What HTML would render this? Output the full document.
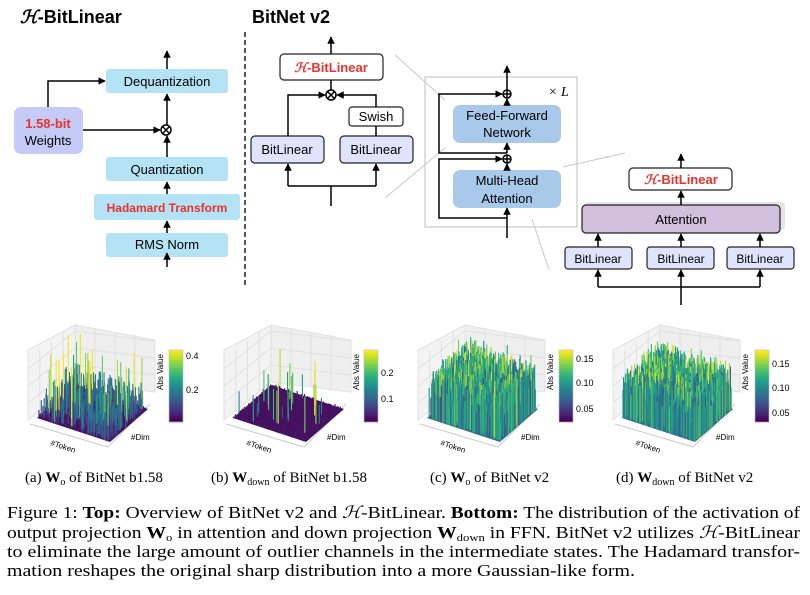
<!DOCTYPE html>
<html><head><meta charset="utf-8"><style>
html,body{margin:0;padding:0;background:#fff}
svg{display:block}
.s{font-family:"Liberation Sans","DejaVu Sans",sans-serif}
.r{font-family:"Liberation Serif",serif}
</style></head><body>
<svg id="svg" width="810" height="595" viewBox="0 0 810 595" xmlns="http://www.w3.org/2000/svg">
<defs>
<marker id="ar" viewBox="0 0 10 10" refX="9" refY="5" markerWidth="5" markerHeight="5" orient="auto"><path d="M0,0L10,5L0,10z" fill="#000"/></marker>
</defs>
<g class="s">
<text x="20" y="23" font-size="18" font-weight="bold"><tspan font-family="Liberation Serif" font-style="italic">ℋ</tspan>-BitLinear</text>
<rect x="106" y="69" width="122" height="24" rx="3" fill="#b4e3f5"/>
<text x="167" y="86" font-size="13" text-anchor="middle">Dequantization</text>
<rect x="14" y="107" width="69" height="47" rx="7" fill="#c4cbf7"/>
<text x="48" y="128" font-size="13" text-anchor="middle" font-weight="bold" fill="#e8322e">1.58-bit</text>
<text x="48" y="145" font-size="13" text-anchor="middle">Weights</text>
<rect x="106" y="157" width="122" height="24" rx="3" fill="#b4e3f5"/>
<text x="167" y="174" font-size="13" text-anchor="middle">Quantization</text>
<rect x="94" y="194" width="146" height="26" rx="3" fill="#b4e3f5"/>
<text x="167" y="212" font-size="12" text-anchor="middle" font-weight="bold" fill="#e8322e">Hadamard Transform</text>
<rect x="106" y="233" width="122" height="24" rx="3" fill="#b4e3f5"/>
<text x="167" y="249" font-size="13" text-anchor="middle">RMS Norm</text>
<g stroke="#000" stroke-width="1.5" fill="none">
<line x1="167" y1="267" x2="167" y2="253" marker-end="url(#ar)"/>
<line x1="167" y1="233" x2="167" y2="221" marker-end="url(#ar)"/>
<line x1="167" y1="194" x2="167" y2="182" marker-end="url(#ar)"/>
<line x1="167" y1="157" x2="167" y2="136" marker-end="url(#ar)"/>
<line x1="167" y1="125" x2="167" y2="94" marker-end="url(#ar)"/>
<line x1="167" y1="69" x2="167" y2="51" marker-end="url(#ar)"/>
<polyline points="48,107 48,81 105,81" marker-end="url(#ar)"/>
<line x1="83" y1="130" x2="160" y2="130" marker-end="url(#ar)"/>
<circle cx="166" cy="130" r="5" fill="#fff"/>
<line x1="162.5" y1="126.5" x2="169.5" y2="133.5"/><line x1="169.5" y1="126.5" x2="162.5" y2="133.5"/>
</g>
<line x1="245" y1="32" x2="245" y2="288" stroke="#000" stroke-width="1.3" stroke-dasharray="5,3"/>

<text x="252" y="23" font-size="18" font-weight="bold">BitNet v2</text>
<rect x="280" y="54" width="103" height="26" rx="4" fill="#fff" stroke="#222" stroke-width="1.2"/>
<text x="331" y="72" font-size="13" text-anchor="middle" font-weight="bold" fill="#e8322e"><tspan font-family="Liberation Serif" font-style="italic">ℋ</tspan>-BitLinear</text>
<rect x="251" y="136" width="73" height="27" rx="4" fill="#dfe3fb" stroke="#222" stroke-width="1.2"/>
<text x="287" y="154" font-size="13" text-anchor="middle">BitLinear</text>
<rect x="340" y="136" width="73" height="27" rx="4" fill="#dfe3fb" stroke="#222" stroke-width="1.2"/>
<text x="376" y="154" font-size="13" text-anchor="middle">BitLinear</text>
<rect x="349" y="107" width="54" height="19" rx="3" fill="#fff" stroke="#222" stroke-width="1.2"/>
<text x="376" y="121" font-size="13" text-anchor="middle">Swish</text>
<g stroke="#000" stroke-width="1.5" fill="none">
<line x1="331" y1="54" x2="331" y2="37" marker-end="url(#ar)"/>
<line x1="331" y1="80" x2="331" y2="90"/>
<polyline points="288,136 288,95 325,95" marker-end="url(#ar)"/>
<polyline points="376,107 376,95 337,95" marker-end="url(#ar)"/>
<line x1="376" y1="136" x2="376" y2="126"/>
<line x1="331" y1="206" x2="331" y2="186"/>
<polyline points="288,186 376,186"/>
<line x1="288" y1="186" x2="288" y2="164" marker-end="url(#ar)"/>
<line x1="376" y1="186" x2="376" y2="164" marker-end="url(#ar)"/>
<circle cx="331" cy="95" r="5" fill="#fff"/>
<line x1="327.5" y1="91.5" x2="334.5" y2="98.5"/><line x1="334.5" y1="91.5" x2="327.5" y2="98.5"/>
</g>
<g stroke="#c8c8c8" stroke-width="1">
<line x1="395" y1="55" x2="445" y2="100"/>
<line x1="385" y1="198" x2="445" y2="148"/>
<line x1="563" y1="167" x2="625" y2="153"/>
<line x1="532" y1="219" x2="549" y2="270"/>
</g>
<rect x="425" y="77" width="152" height="150" fill="none" stroke="#c8c8c8" stroke-width="1.2"/>
<text x="548" y="96" font-size="14" class="r" font-style="italic">× L</text>
<rect x="453" y="105" width="108" height="38" rx="7" fill="#a9c9ea"/>
<text x="507" y="120" font-size="13" text-anchor="middle">Feed-Forward</text>
<text x="507" y="137" font-size="13" text-anchor="middle">Network</text>
<rect x="453" y="170" width="108" height="38" rx="7" fill="#a9c9ea"/>
<text x="507" y="185" font-size="13" text-anchor="middle">Multi-Head</text>
<text x="507" y="203" font-size="13" text-anchor="middle">Attention</text>
<g stroke="#000" stroke-width="1.5" fill="none">
<line x1="507" y1="90" x2="507" y2="66" marker-end="url(#ar)"/>
<line x1="507" y1="105" x2="507" y2="99" marker-end="url(#ar)"/>
<line x1="507" y1="153" x2="507" y2="143" marker-end="url(#ar)"/>
<line x1="507" y1="170" x2="507" y2="164" marker-end="url(#ar)"/>
<line x1="507" y1="238" x2="507" y2="208" marker-end="url(#ar)"/>
<polyline points="507,153 439,153 439,94 502,94" marker-end="url(#ar)"/>
<polyline points="507,218 439,218 439,159 502,159" marker-end="url(#ar)"/>
<circle cx="507" cy="94" r="4" fill="#fff"/><line x1="503" y1="94" x2="511" y2="94"/><line x1="507" y1="90" x2="507" y2="98"/>
<circle cx="507" cy="159" r="4" fill="#fff"/><line x1="503" y1="159" x2="511" y2="159"/><line x1="507" y1="155" x2="507" y2="163"/>
</g>
<rect x="585" y="202" width="200" height="28" rx="4" fill="#e4e4e4"/>
<rect x="582" y="205" width="198" height="28" rx="4" fill="#d1bfdd" stroke="#222" stroke-width="1.2"/>
<text x="681" y="224" font-size="13" text-anchor="middle">Attention</text>
<rect x="629" y="168" width="103" height="22" rx="4" fill="#fff" stroke="#222" stroke-width="1.2"/>
<text x="681" y="184" font-size="13" text-anchor="middle" font-weight="bold" fill="#e8322e"><tspan font-family="Liberation Serif" font-style="italic">ℋ</tspan>-BitLinear</text>
<rect x="565" y="247" width="67" height="22" rx="3" fill="#dfe3fb" stroke="#222" stroke-width="1.2"/>
<text x="598" y="263" font-size="12" text-anchor="middle">BitLinear</text>
<rect x="647" y="247" width="67" height="22" rx="3" fill="#dfe3fb" stroke="#222" stroke-width="1.2"/>
<text x="681" y="263" font-size="12" text-anchor="middle">BitLinear</text>
<rect x="727" y="247" width="67" height="22" rx="3" fill="#dfe3fb" stroke="#222" stroke-width="1.2"/>
<text x="760" y="263" font-size="12" text-anchor="middle">BitLinear</text>
<g stroke="#000" stroke-width="1.5" fill="none">
<line x1="681" y1="168" x2="681" y2="154" marker-end="url(#ar)"/>
<line x1="681" y1="205" x2="681" y2="191" marker-end="url(#ar)"/>
<line x1="598" y1="247" x2="598" y2="234" marker-end="url(#ar)"/>
<line x1="681" y1="247" x2="681" y2="234" marker-end="url(#ar)"/>
<line x1="760" y1="247" x2="760" y2="234" marker-end="url(#ar)"/>
<polyline points="598,287 760,287"/>
<line x1="598" y1="287" x2="598" y2="270" marker-end="url(#ar)"/>
<line x1="760" y1="287" x2="760" y2="270" marker-end="url(#ar)"/>
<line x1="681" y1="305" x2="681" y2="270" marker-end="url(#ar)"/>
</g>
</g>
<g id="plots"></g>
<g class="r" font-size="15">
<text x="25" y="482">(a) <tspan font-weight="bold">W</tspan><tspan font-size="10" dy="3">o</tspan><tspan dy="-3"> of BitNet b1.58</tspan></text>
<text x="211" y="482">(b) <tspan font-weight="bold">W</tspan><tspan font-size="10" dy="3">down</tspan><tspan dy="-3"> of BitNet b1.58</tspan></text>
<text x="430" y="482">(c) <tspan font-weight="bold">W</tspan><tspan font-size="10" dy="3">o</tspan><tspan dy="-3"> of BitNet v2</tspan></text>
<text x="616" y="482">(d) <tspan font-weight="bold">W</tspan><tspan font-size="10" dy="3">down</tspan><tspan dy="-3"> of BitNet v2</tspan></text>
</g>
<g class="r" font-size="17">
<text x="7" y="518" textLength="793" lengthAdjust="spacingAndGlyphs">Figure 1: <tspan font-weight="bold">Top:</tspan> Overview of BitNet v2 and <tspan font-style="italic">ℋ</tspan>-BitLinear. <tspan font-weight="bold">Bottom:</tspan> The distribution of the activation of</text>
<text x="7" y="538" textLength="793" lengthAdjust="spacingAndGlyphs">output projection <tspan font-weight="bold">W</tspan><tspan font-size="11" dy="3">o</tspan><tspan dy="-3"> in attention and down projection </tspan><tspan font-weight="bold">W</tspan><tspan font-size="11" dy="3">down</tspan><tspan dy="-3"> in FFN. BitNet v2 utilizes </tspan><tspan font-style="italic">ℋ</tspan>-BitLinear</text>
<text x="7" y="557" textLength="793" lengthAdjust="spacingAndGlyphs">to eliminate the large amount of outlier channels in the intermediate states. The Hadamard transfor-</text>
<text x="7" y="576" textLength="628" lengthAdjust="spacingAndGlyphs">mation reshapes the original sharp distribution into a more Gaussian-like form.</text>
</g>
</svg>
<script>
(function(){
var NS="http://www.w3.org/2000/svg",g=document.getElementById("plots");
function el(t,a,p){var e=document.createElementNS(NS,t);for(var k in a)e.setAttribute(k,a[k]);(p||g).appendChild(e);return e;}
var st=[[68,1,84],[72,40,120],[62,73,137],[49,104,142],[38,130,142],[31,158,137],[53,183,121],[109,205,89],[180,222,44],[253,231,37]];
function vir(t){t=Math.max(0,Math.min(1,t))*9;var i=Math.min(8,Math.floor(t)),f=t-i,a=st[i],b=st[i+1];return "rgb("+[0,1,2].map(function(k){return Math.round(a[k]+(b[k]-a[k])*f)}).join(",")+")";}
var seed=7;function rnd(){seed=(seed*16807)%2147483647;return seed/2147483647;}
var P=[
 {ox:0,type:"a",ticks:[["0.4",355],["0.2",389]]},
 {ox:196,type:"b",ticks:[["0.2",372],["0.1",398]]},
 {ox:390,type:"c",ticks:[["0.15",358],["0.10",382],["0.05",408]]},
 {ox:585,type:"d",ticks:[["0.15",363],["0.10",387],["0.05",412]]}];
P.forEach(function(p){
 var o=p.ox,G=el("g",{});
 el("polygon",{points:[(28+o)+",420",(75+o)+",382",(75+o)+",325",(28+o)+",350"].join(" "),fill:"#f3f3f3",stroke:"#e2e2e2"},G);
 el("polygon",{points:[(75+o)+",382",(155+o)+",392",(155+o)+",340",(75+o)+",325"].join(" "),fill:"#efefef",stroke:"#e2e2e2"},G);
 for(var i=1;i<4;i++){var x1=28+o+47*i/4,y1=420-38*i/4;el("line",{x1:x1,y1:y1,x2:x1,y2:y1-60,stroke:"#e0e0e0"},G);
  var x2=75+o+80*i/4,y2=382+10*i/4;el("line",{x1:x2,y1:y2,x2:x2,y2:y2-55,stroke:"#e0e0e0"},G);
  el("line",{x1:28+o,y1:420-17*i,x2:75+o,y2:382-17*i,stroke:"#e0e0e0"},G);
  el("line",{x1:75+o,y1:382-17*i,x2:155+o,y2:392-17*i,stroke:"#e0e0e0"},G);}
 el("polyline",{points:[(30+o)+",424",(108+o)+",447",(150+o)+",404"].join(" "),fill:"none",stroke:"#ccc"},G);
 var A=[37+o,418],B=[110+o,442],D=[75+o,385];
 function pt(u,v){return[A[0]+u*(B[0]-A[0])+v*(D[0]-A[0]),A[1]+u*(B[1]-A[1])+v*(D[1]-A[1])];}
 var c=[pt(0,0),pt(1,0),pt(1,1),pt(0,1)];
 el("polygon",{points:c.map(function(q){return q.join(",")}).join(" "),fill:p.type=="c"||p.type=="d"?"#2f6b8e":"#46135f"},G);
 var N=p.type=="b"?1400:1800,pts=[];
 for(var k=0;k<N;k++){var u=rnd(),v=rnd(),h,t;
  if(p.type=="a"){var r=rnd();h=r<0.6?rnd()*5:(r<0.96?rnd()*25:20+rnd()*40);t=h/60;}
  else if(p.type=="b"){var r=rnd();h=r<0.985?rnd()*3:10+rnd()*40;t=h/45;}
  else{h=18+rnd()*30;if(rnd()<0.05)h+=8;t=0.25+rnd()*0.5+(h>44?0.2:0);}
  pts.push([u,v,h,t]);}
 pts.sort(function(a,b){return (b[1]-a[1])||(a[0]-b[0]);});
 pts.forEach(function(q){var s=pt(q[0],q[1]);el("line",{x1:s[0],y1:s[1],x2:s[0],y2:s[1]-q[2],stroke:vir(q[3]),"stroke-width":1.1},G);});
 var cb=[169,364,559,755][P.indexOf(p)];
 for(var j=0;j<36;j++)el("rect",{x:cb,y:350+j*2,width:14,height:2.2,fill:vir(1-j/35)},G);
 el("rect",{x:cb,y:350,width:14,height:72,fill:"none",stroke:"#bbb","stroke-width":0.6},G);
 p.ticks.forEach(function(tk){var tt=el("text",{x:cb+17,y:tk[1]+4,"font-size":9,"class":"s"},G);tt.textContent=tk[0];});
 var av=el("text",{x:0,y:0,"font-size":8,"class":"s",transform:"translate("+(163+o)+",372) rotate(-90)","text-anchor":"middle"},G);av.textContent="Abs Value";
 var tk=el("text",{x:0,y:0,"font-size":8,"class":"s",transform:"translate("+(50+o)+",445) rotate(18)"},G);tk.textContent="#Token";
 var dm=el("text",{x:131+o,y:440,"font-size":8,"class":"s"},G);dm.textContent="#Dim";
});
})();
</script>
</body></html>
